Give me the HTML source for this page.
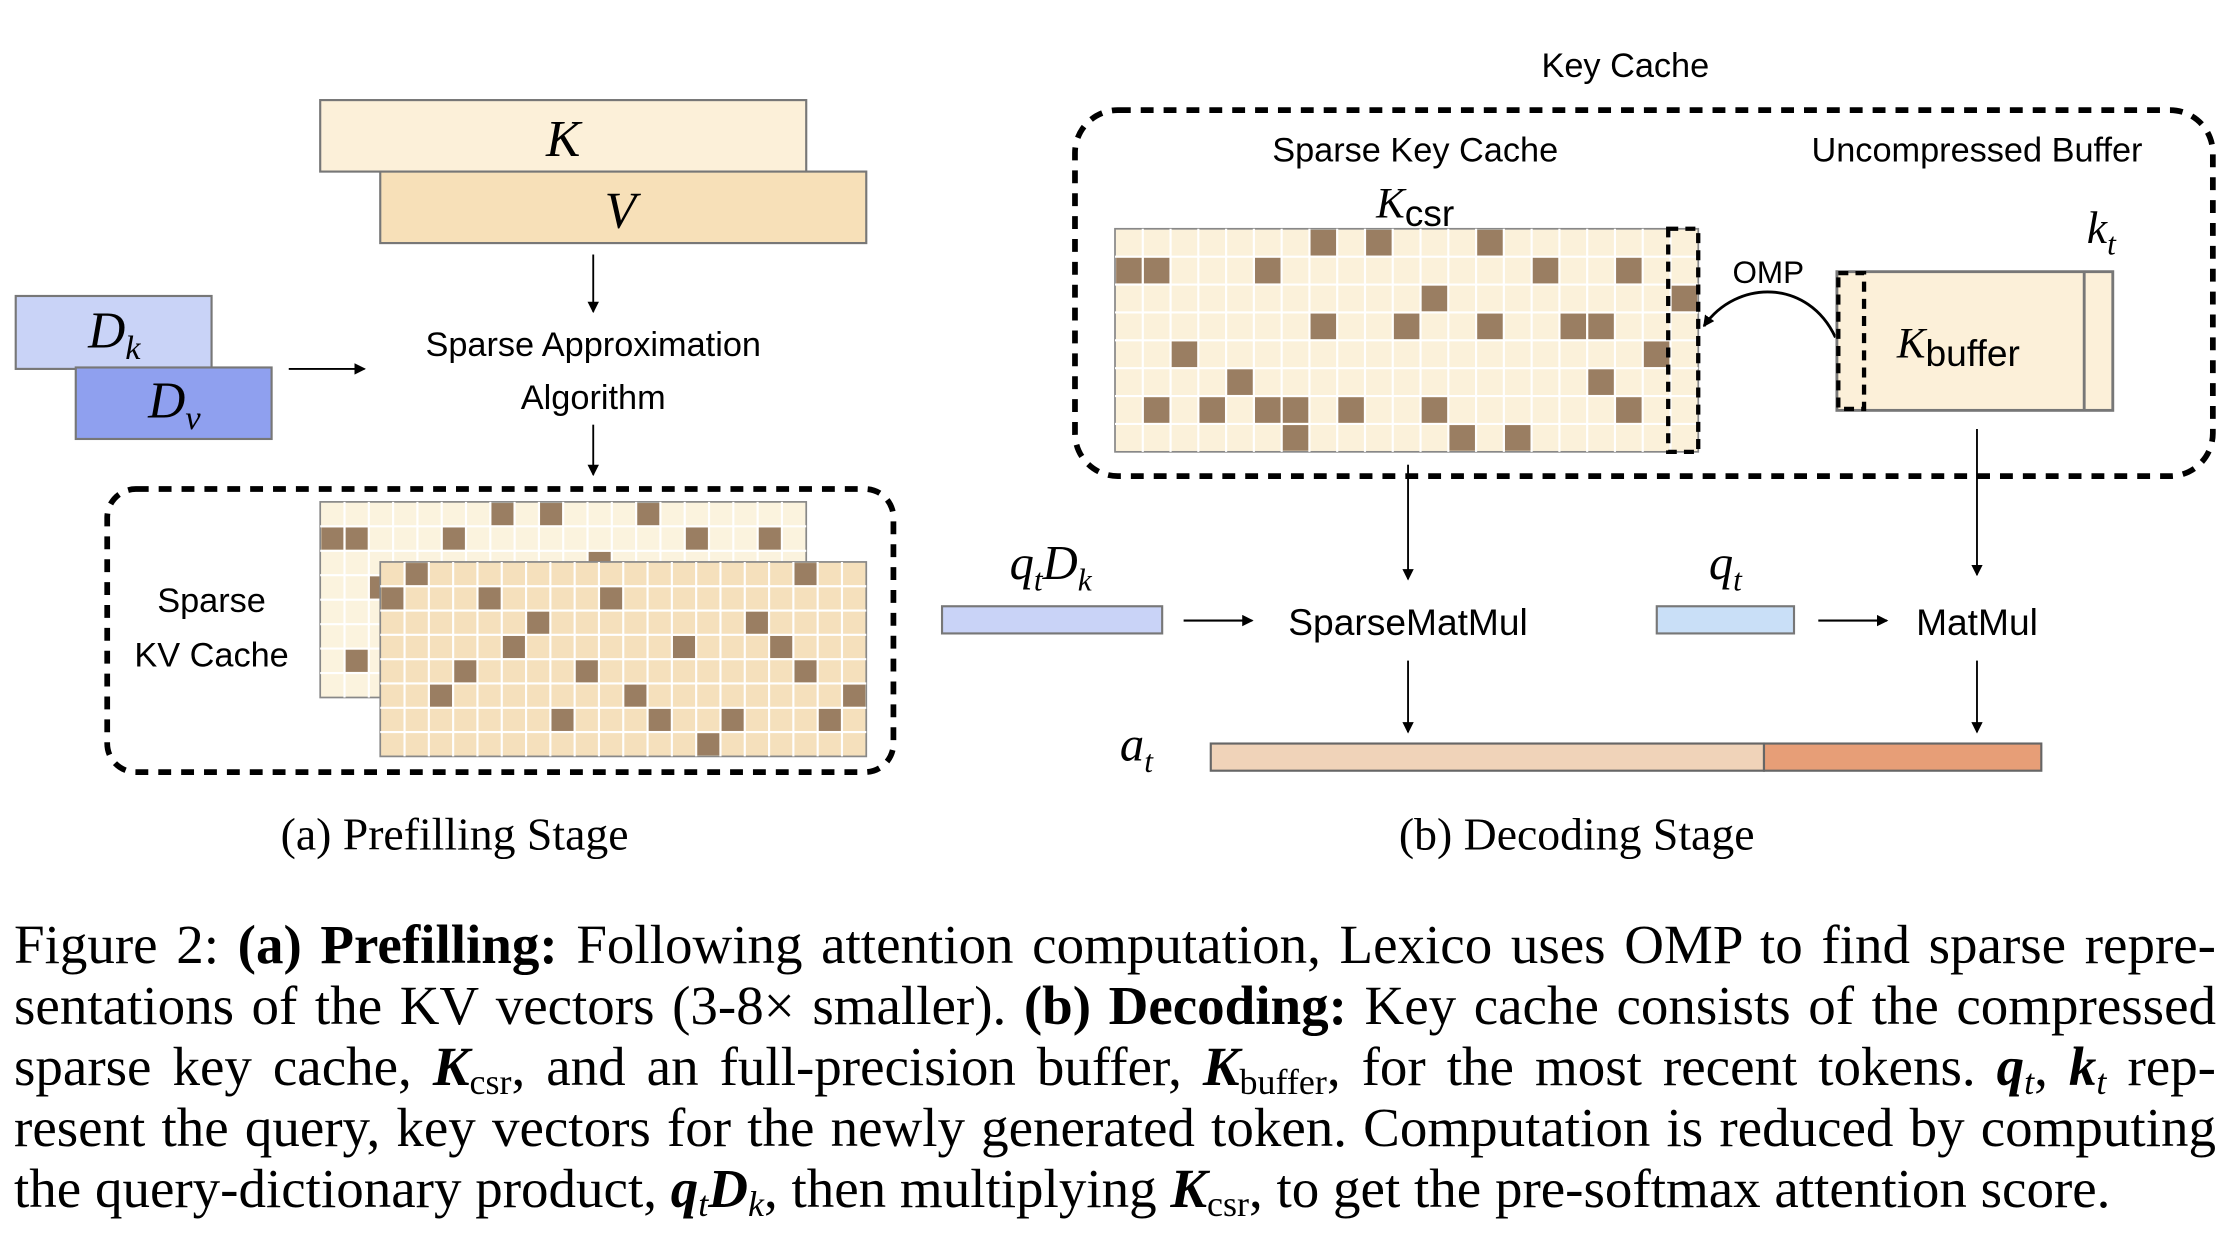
<!DOCTYPE html>
<html><head><meta charset="utf-8"><style>
html,body{margin:0;padding:0;background:#fff;}
body{width:2230px;height:1254px;position:relative;overflow:hidden;}
svg{position:absolute;left:0;top:0;}
.cap{position:absolute;left:14px;width:2202px;font-family:"Liberation Serif",serif;font-size:55px;line-height:61px;height:61px;white-space:nowrap;color:#000;overflow:visible;}
.j{text-align:justify;text-align-last:justify;white-space:normal;}
.m{font-style:italic;font-weight:bold;}
sub{font-size:36px;vertical-align:-9px;line-height:0;}
</style></head><body>
<svg width="2230" height="1254" viewBox="0 0 1560 877" preserveAspectRatio="none" xmlns="http://www.w3.org/2000/svg">
<defs><marker id="ah" markerWidth="8" markerHeight="8" refX="7" refY="4" orient="auto" markerUnits="userSpaceOnUse"><path d="M0,0 L8,4 L0,8 z" fill="#000"/></marker></defs>
<g font-family="Liberation Sans, sans-serif" font-size="24" fill="#000" text-anchor="middle">
<rect x="224" y="70" width="340" height="50" fill="#fcf0d9" stroke="#777" stroke-width="1.5"/>
<rect x="266" y="120" width="340" height="50" fill="#f7e0b8" stroke="#777" stroke-width="1.5"/>
<text x="394" y="109" font-family="Liberation Serif, serif" font-style="italic" font-size="36">K</text>
<text x="434" y="159" font-family="Liberation Serif, serif" font-style="italic" font-size="36">V</text>
<line x1="415" y1="178" x2="415" y2="218" stroke="#000" stroke-width="1.3" marker-end="url(#ah)"/>
<text x="415" y="249">Sparse Approximation</text>
<text x="415" y="286">Algorithm</text>
<line x1="415" y1="297" x2="415" y2="332" stroke="#000" stroke-width="1.3" marker-end="url(#ah)"/>
<rect x="11" y="207" width="137" height="51" fill="#c9d3f7" stroke="#777" stroke-width="1.5"/>
<rect x="53" y="257" width="137" height="50" fill="#8fa0ef" stroke="#777" stroke-width="1.5"/>
<text x="80" y="243" font-family="Liberation Serif, serif" font-style="italic" font-size="36">D<tspan font-size="24" dy="8">k</tspan></text>
<text x="122" y="292" font-family="Liberation Serif, serif" font-style="italic" font-size="36">D<tspan font-size="24" dy="8">v</tspan></text>
<line x1="202" y1="258" x2="255" y2="258" stroke="#000" stroke-width="1.3" marker-end="url(#ah)"/>
<rect x="75" y="342" width="550" height="198" rx="20" fill="none" stroke="#000" stroke-width="4" stroke-dasharray="9,7"/>
<text x="148" y="428">Sparse</text>
<text x="148" y="466">KV Cache</text>
<g id="g1"></g>
<text x="318" y="594" font-family="Liberation Serif, serif" font-size="32">(a) Prefilling Stage</text>
<text x="1137" y="54">Key Cache</text>
<rect x="752" y="77" width="796" height="256" rx="30" fill="none" stroke="#000" stroke-width="4" stroke-dasharray="9,7"/>
<text x="990" y="113">Sparse Key Cache</text>
<text x="1383" y="113">Uncompressed Buffer</text>
<text x="990" y="152" font-family="Liberation Serif, serif" font-style="italic" font-size="30">K<tspan font-family="Liberation Sans, sans-serif" font-style="normal" font-size="26" dy="6">csr</tspan></text>
<g id="g2"></g>
<rect x="1167" y="160" width="21" height="156" fill="none" stroke="#000" stroke-width="3" stroke-dasharray="7,5"/>
<text x="1237" y="198" font-size="22">OMP</text>
<path d="M1284,236 C1265,195 1215,195 1192,228" fill="none" stroke="#000" stroke-width="2" marker-end="url(#ah)"/>
<rect x="1285" y="190" width="193" height="97" fill="#fcf0d9" stroke="#777" stroke-width="2"/>
<line x1="1458" y1="190" x2="1458" y2="287" stroke="#777" stroke-width="2"/>
<rect x="1286" y="191" width="18" height="95" fill="none" stroke="#000" stroke-width="3" stroke-dasharray="7,5"/>
<text x="1370" y="250" font-family="Liberation Serif, serif" font-style="italic" font-size="30">K<tspan font-family="Liberation Sans, sans-serif" font-style="normal" font-size="26" dy="6">buffer</tspan></text>
<text x="1470" y="170" font-family="Liberation Serif, serif" font-style="italic" font-size="32">k<tspan font-size="22" dy="8">t</tspan></text>
<line x1="985" y1="325" x2="985" y2="405" stroke="#000" stroke-width="1.3" marker-end="url(#ah)"/>
<line x1="1383" y1="300" x2="1383" y2="402" stroke="#000" stroke-width="1.3" marker-end="url(#ah)"/>
<text x="735" y="405" font-family="Liberation Serif, serif" font-style="italic" font-size="34">q<tspan font-size="22" dy="8">t</tspan><tspan dy="-8">D</tspan><tspan font-size="22" dy="8">k</tspan></text>
<rect x="659" y="424" width="154" height="19" fill="#c9d3f7" stroke="#777" stroke-width="1.5"/>
<line x1="828" y1="434" x2="876" y2="434" stroke="#000" stroke-width="1.5" marker-end="url(#ah)"/>
<text x="985" y="444" font-size="26">SparseMatMul</text>
<text x="1207" y="405" font-family="Liberation Serif, serif" font-style="italic" font-size="34">q<tspan font-size="22" dy="8">t</tspan></text>
<rect x="1159" y="424" width="96" height="19" fill="#c9dff7" stroke="#777" stroke-width="1.5"/>
<line x1="1272" y1="434" x2="1320" y2="434" stroke="#000" stroke-width="1.5" marker-end="url(#ah)"/>
<text x="1383" y="444" font-size="26">MatMul</text>
<line x1="985" y1="462" x2="985" y2="512" stroke="#000" stroke-width="1.3" marker-end="url(#ah)"/>
<line x1="1383" y1="462" x2="1383" y2="512" stroke="#000" stroke-width="1.3" marker-end="url(#ah)"/>
<text x="795" y="532" font-family="Liberation Serif, serif" font-style="italic" font-size="34">a<tspan font-size="22" dy="8">t</tspan></text>
<rect x="847" y="520" width="387" height="19" fill="#f0d3b9" stroke="#666" stroke-width="1.5"/>
<rect x="1234" y="520" width="194" height="19" fill="#e79e77" stroke="#666" stroke-width="1.5"/>
<text x="1103" y="594" font-family="Liberation Serif, serif" font-size="32">(b) Decoding Stage</text>
</g>
</svg>
<div class="cap j" style="top:914px">Figure 2: <b>(a) Prefilling:</b> Following attention computation, Lexico uses OMP to find sparse repre-</div>
<div class="cap j" style="top:975px">sentations of the KV vectors (3-8× smaller). <b>(b) Decoding:</b> Key cache consists of the compressed</div>
<div class="cap j" style="top:1036px">sparse key cache, <span class="m">K</span><sub>csr</sub>, and an full-precision buffer, <span class="m">K</span><sub>buffer</sub>, for the most recent tokens. <span class="m">q</span><sub><i>t</i></sub>, <span class="m">k</span><sub><i>t</i></sub> rep-</div>
<div class="cap j" style="top:1097px">resent the query, key vectors for the newly generated token. Computation is reduced by computing</div>
<div class="cap" style="top:1158px">the query-dictionary product, <span class="m">q</span><sub><i>t</i></sub><span class="m">D</span><sub><i>k</i></sub>, then multiplying <span class="m">K</span><sub>csr</sub>, to get the pre-softmax attention score.</div>
<script>
function grid(gid,x,y,cols,rows,cw,ch,bg,dark){
  var g=document.getElementById(gid),s="";
  s+='<rect x="'+x+'" y="'+y+'" width="'+cols*cw+'" height="'+rows*ch+'" fill="'+bg+'" stroke="#888" stroke-width="1.2"/>';
  for(var c=1;c<cols;c++)s+='<line x1="'+(x+c*cw)+'" y1="'+y+'" x2="'+(x+c*cw)+'" y2="'+(y+rows*ch)+'" stroke="#fff" stroke-width="1.5"/>';
  for(var r=1;r<rows;r++)s+='<line x1="'+x+'" y1="'+(y+r*ch)+'" x2="'+(x+cols*cw)+'" y2="'+(y+r*ch)+'" stroke="#fff" stroke-width="1.5"/>';
  dark.forEach(function(row,r){row.forEach(function(c){s+='<rect x="'+(x+c*cw+0.8)+'" y="'+(y+r*ch+0.8)+'" width="'+(cw-1.6)+'" height="'+(ch-1.6)+'" fill="#9a7e62"/>';});});
  g.innerHTML+=s;
}
grid("g1",224,351,20,8,17,17.1,"#fbf3de",[[7,9,13],[0,1,5,15,18],[11],[2],[11],[],[1],[]]);
grid("g1",266,393,20,8,17,17,"#f5e0bc",[[1,17],[0,4,9],[6,15],[5,12,16],[3,8,17],[2,10,19],[7,11,14,18],[13]]);
grid("g2",780,160,21,8,19.43,19.5,"#fbf1da",[[7,9,13],[0,1,5,15,18],[11,20],[7,10,13,16,17],[2,19],[4,17],[1,3,5,6,8,11,18],[6,12,14]]);
</script>
</body></html>
